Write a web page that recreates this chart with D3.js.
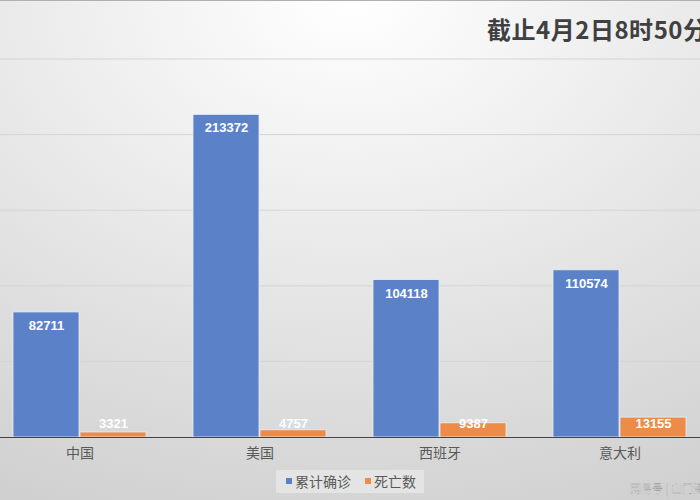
<!DOCTYPE html>
<html><head><meta charset="utf-8">
<script src="https://cdn.jsdelivr.net/npm/d3@7"></script>
<style>body{margin:0;overflow:hidden}svg{display:block}</style>
</head><body><svg id="c" width="700" height="500"></svg>
<script>
const categories = ["中国","美国","西班牙","意大利"];
const confirmed = [82711,213372,104118,110574];
const deaths = [3321,4757,9387,13155];
const seriesNames = ["累计确诊","死亡数"];
const yTicks = [0,50000,100000,150000,200000,250000];
const colors = ["#5b82c8","#ec8c48"];

const svg = d3.select("#c");
const defs = svg.append("defs");
const g = defs.append("radialGradient").attr("id","bg").attr("cx","0.5").attr("cy","0").attr("r","1.1");
g.append("stop").attr("offset","0").attr("stop-color","#ffffff");
g.append("stop").attr("offset","1").attr("stop-color","#d0d0d0");
svg.append("rect").attr("width",700).attr("height",500).attr("fill","url(#bg)");
svg.append("line").attr("x1",0).attr("x2",700).attr("y1",0.5).attr("y2",0.5).attr("stroke","#b0b0b0");

const x = d3.scaleBand().domain(categories).range([-10,710]).paddingInner(0).paddingOuter(0);
const y = d3.scaleLinear().domain([0,250000]).range([437,59]);
const inner = 134, half = inner/2;

svg.append("g").selectAll("line").data(yTicks.slice(1)).join("line")
  .attr("x1",0).attr("x2",700).attr("y1",d=>y(d)).attr("y2",d=>y(d))
  .attr("stroke","#d4d4d4").attr("stroke-width",1);

const cx = c => x(c)+x.bandwidth()/2;
[confirmed,deaths].forEach((arr,si)=>{
  const gs = svg.append("g");
  gs.selectAll("rect").data(categories).join("rect")
    .attr("x",c=>cx(c)-half+si*half).attr("width",half-1)
    .attr("y",(c,i)=>y(arr[i])).attr("height",(c,i)=>y(0)-y(arr[i]))
    .attr("fill",colors[si]).attr("stroke","#e8eef8").attr("stroke-width",0.8);
  gs.selectAll("text").data(categories).join("text")
    .attr("x",c=>cx(c)-half+si*half+half/2).attr("y",(c,i)=>Math.min(y(arr[i])+18, y(0)-9))
    .attr("text-anchor","middle").attr("fill","#fff").attr("font-weight","bold")
    .attr("font-family","Liberation Sans, Arial, sans-serif").attr("font-size",13)
    .text((c,i)=>arr[i]);
});

svg.append("line").attr("x1",0).attr("x2",700).attr("y1",y(0)+0.5).attr("y2",y(0)+0.5).attr("stroke","#444").attr("stroke-width",1.2);

svg.append("g").selectAll("text").data(categories).join("text")
  .attr("x",c=>cx(c)).attr("y",458).attr("text-anchor","middle")
  .attr("font-family","Noto Sans CJK SC, sans-serif").attr("font-size",14).attr("fill","#595959")
  .text(c=>c);

svg.append("rect").attr("x",276).attr("y",470).attr("width",148).attr("height",23).attr("fill","#e4e4e4");
const lg = svg.append("g");
seriesNames.forEach((n,i)=>{
  const lx = [286,365][i];
  lg.append("rect").attr("x",lx).attr("y",478).attr("width",6).attr("height",6).attr("fill",colors[i]);
  lg.append("text").attr("x",lx+9).attr("y",487).attr("font-family","Noto Sans CJK SC, sans-serif")
    .attr("font-size",14).attr("fill","#595959").text(n);
});

svg.append("text").attr("x",487).attr("y",39).attr("font-family","Noto Sans CJK SC, sans-serif")
  .attr("font-weight","bold").attr("font-size",24).attr("fill","#404040").attr("textLength",220).text("截止4月2日8时50分");

svg.append("text").attr("x",630).attr("y",493).attr("font-family","Noto Sans CJK SC, sans-serif")
  .attr("font-size",11).attr("fill","#f4f4f4").attr("stroke","#999").attr("stroke-width",0.3).text("网易号 | 山门海");
</script></body></html>
